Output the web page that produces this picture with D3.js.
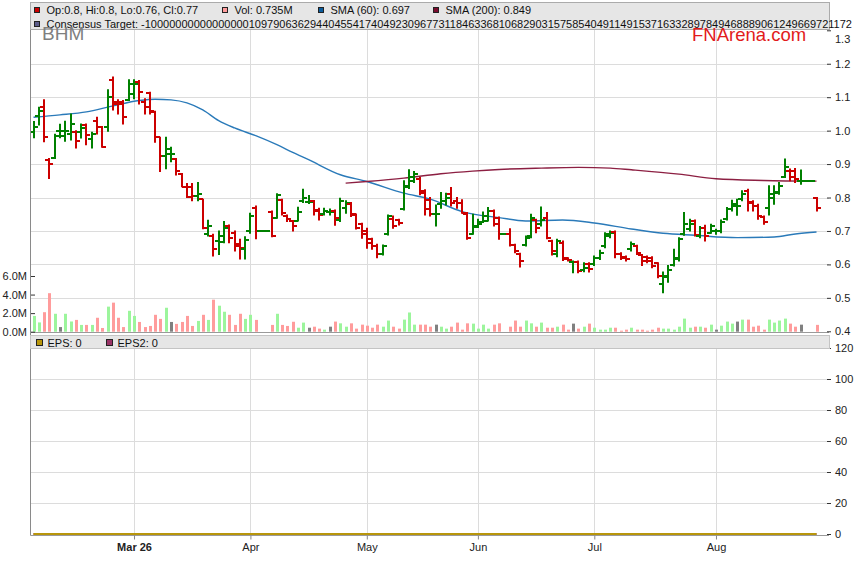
<!DOCTYPE html>
<html lang="en">
<head>
    <meta charset="UTF-8">
    <script src="https://cdnjs.cloudflare.com/ajax/libs/d3/7.8.5/d3.min.js"></script>
    <style>
        body { margin: 0; background: #fff; }
        text { font-family: "Liberation Sans", Arial, sans-serif; }
    </style>
</head>
<body>
<div id="chart"></div>

<script>
    // daily bars, one slot per weekday from 3 Feb 2026 (holidays are flat at the previous close)
    var opens = [0.995, 1.045, 1.070, 0.912, 0.917, 1.000, 0.985, 0.990, 0.995, 0.996,
        1.018, 0.975, 1.030, 1.010, 1.010, 1.150, 1.085, 1.085, 1.092, 1.110,
        1.145, 1.085, 1.112, 1.055, 0.980, 0.925, 0.930, 0.915, 0.870, 0.832,
        0.832, 0.805, 0.795, 0.690, 0.685, 0.670, 0.667, 0.715, 0.695, 0.660,
        0.645, 0.700, 0.770, 0.700, 0.700, 0.757, 0.738, 0.793, 0.745, 0.731,
        0.731, 0.790, 0.788, 0.790, 0.762, 0.752, 0.757, 0.760, 0.733, 0.770,
        0.780, 0.750, 0.720, 0.700, 0.675, 0.655, 0.632, 0.690, 0.735, 0.733,
        0.765, 0.830, 0.850, 0.855, 0.820, 0.792, 0.750, 0.780, 0.790, 0.810,
        0.790, 0.783, 0.752, 0.690, 0.712, 0.727, 0.730, 0.760, 0.740, 0.690,
        0.690, 0.658, 0.632, 0.658, 0.685, 0.733, 0.720, 0.740, 0.670, 0.630,
        0.665, 0.618, 0.608, 0.608, 0.583, 0.600, 0.600, 0.620, 0.655, 0.685,
        0.698, 0.632, 0.622, 0.645, 0.655, 0.628, 0.622, 0.620, 0.603, 0.540,
        0.565, 0.597, 0.615, 0.690, 0.705, 0.730, 0.685, 0.710, 0.695, 0.700,
        0.700, 0.735, 0.765, 0.775, 0.795, 0.820, 0.787, 0.775, 0.742, 0.770,
        0.800, 0.815, 0.862, 0.880, 0.880, 0.848, 0.848, 0.848, 0.800];
    var highs = [1.027, 1.070, 1.092, 0.917, 0.989, 1.019, 1.028, 1.050, 1.000, 1.020,
        1.020, 0.995, 1.040, 1.012, 1.122, 1.160, 1.092, 1.090, 1.152, 1.152,
        1.150, 1.095, 1.115, 1.058, 0.980, 0.980, 0.950, 0.917, 0.872, 0.842,
        0.842, 0.845, 0.795, 0.732, 0.690, 0.700, 0.728, 0.718, 0.700, 0.675,
        0.683, 0.753, 0.775, 0.700, 0.700, 0.760, 0.811, 0.795, 0.748, 0.731,
        0.771, 0.825, 0.806, 0.791, 0.768, 0.768, 0.766, 0.763, 0.798, 0.790,
        0.785, 0.751, 0.723, 0.708, 0.678, 0.660, 0.658, 0.748, 0.745, 0.735,
        0.850, 0.883, 0.878, 0.860, 0.823, 0.800, 0.778, 0.815, 0.813, 0.830,
        0.800, 0.793, 0.755, 0.750, 0.735, 0.757, 0.770, 0.763, 0.742, 0.690,
        0.707, 0.660, 0.633, 0.685, 0.750, 0.735, 0.772, 0.755, 0.672, 0.675,
        0.670, 0.620, 0.610, 0.610, 0.605, 0.605, 0.625, 0.642, 0.695, 0.700,
        0.700, 0.635, 0.625, 0.667, 0.657, 0.630, 0.625, 0.623, 0.605, 0.577,
        0.597, 0.645, 0.680, 0.755, 0.735, 0.733, 0.713, 0.717, 0.720, 0.705,
        0.733, 0.770, 0.792, 0.795, 0.820, 0.825, 0.790, 0.780, 0.745, 0.835,
        0.835, 0.845, 0.915, 0.885, 0.887, 0.882, 0.848, 0.848, 0.800];
    var lows = [0.979, 1.017, 0.967, 0.857, 0.917, 0.979, 0.968, 0.972, 0.948, 0.978,
        0.958, 0.948, 0.990, 0.950, 0.998, 1.062, 1.050, 1.020, 1.090, 1.095,
        1.080, 1.050, 1.050, 0.965, 0.878, 0.886, 0.907, 0.867, 0.832, 0.800,
        0.790, 0.790, 0.707, 0.685, 0.625, 0.630, 0.665, 0.665, 0.640, 0.616,
        0.616, 0.693, 0.677, 0.700, 0.700, 0.683, 0.738, 0.748, 0.728, 0.700,
        0.730, 0.785, 0.782, 0.748, 0.733, 0.748, 0.748, 0.717, 0.728, 0.753,
        0.743, 0.706, 0.678, 0.648, 0.645, 0.620, 0.628, 0.688, 0.708, 0.718,
        0.763, 0.827, 0.845, 0.808, 0.748, 0.745, 0.715, 0.768, 0.778, 0.775,
        0.768, 0.753, 0.675, 0.690, 0.710, 0.725, 0.730, 0.715, 0.675, 0.690,
        0.655, 0.635, 0.592, 0.655, 0.680, 0.695, 0.715, 0.677, 0.628, 0.623,
        0.612, 0.610, 0.575, 0.575, 0.578, 0.577, 0.597, 0.615, 0.650, 0.680,
        0.620, 0.615, 0.610, 0.640, 0.630, 0.597, 0.605, 0.590, 0.560, 0.515,
        0.547, 0.595, 0.610, 0.687, 0.700, 0.685, 0.680, 0.670, 0.693, 0.690,
        0.695, 0.733, 0.760, 0.747, 0.790, 0.760, 0.760, 0.735, 0.720, 0.748,
        0.780, 0.810, 0.860, 0.850, 0.845, 0.840, 0.848, 0.848, 0.760];
    var closes = [1.012, 1.058, 0.980, 0.899, 0.985, 1.000, 1.000, 1.020, 0.968, 1.008,
        0.988, 0.990, 1.010, 0.952, 1.100, 1.080, 1.080, 1.040, 1.140, 1.140,
        1.115, 1.072, 1.058, 0.982, 0.925, 0.945, 0.930, 0.880, 0.832, 0.802,
        0.805, 0.810, 0.710, 0.715, 0.647, 0.685, 0.710, 0.680, 0.655, 0.648,
        0.672, 0.745, 0.700, 0.700, 0.700, 0.686, 0.808, 0.755, 0.735, 0.715,
        0.758, 0.800, 0.788, 0.760, 0.748, 0.760, 0.757, 0.738, 0.790, 0.785,
        0.748, 0.710, 0.690, 0.665, 0.655, 0.630, 0.655, 0.745, 0.715, 0.725,
        0.835, 0.862, 0.870, 0.815, 0.765, 0.752, 0.750, 0.790, 0.800, 0.785,
        0.783, 0.755, 0.680, 0.715, 0.720, 0.745, 0.760, 0.720, 0.690, 0.690,
        0.657, 0.640, 0.610, 0.680, 0.740, 0.710, 0.733, 0.680, 0.640, 0.670,
        0.615, 0.612, 0.608, 0.580, 0.590, 0.585, 0.620, 0.635, 0.690, 0.695,
        0.632, 0.620, 0.617, 0.660, 0.633, 0.610, 0.610, 0.595, 0.565, 0.562,
        0.583, 0.620, 0.675, 0.720, 0.722, 0.687, 0.710, 0.685, 0.715, 0.700,
        0.727, 0.765, 0.782, 0.775, 0.812, 0.785, 0.775, 0.745, 0.728, 0.810,
        0.818, 0.835, 0.890, 0.860, 0.855, 0.848, 0.848, 0.848, 0.770];
    // volume, millions of shares
    var volumes = [1.70, 1.00, 2.10, 4.15, 1.93, 0.50, 1.93, 1.10, 1.27, 0.73,
        0.73, 0.73, 1.50, 0.40, 2.70, 3.13, 1.50, 0.50, 2.25, 1.70,
        1.05, 0.50, 0.62, 1.82, 1.38, 2.58, 1.05, 0.84, 1.05, 1.70,
        0.62, 1.16, 1.82, 1.27, 3.45, 2.80, 2.15, 1.82, 0.73, 1.93,
        1.38, 1.82, 1.27, 0, 0, 0.73, 1.93, 0.73, 0.62, 1.07,
        0.43, 0.98, 0.43, 0.54, 0.33, 0.22, 0.54, 1.09, 0.90, 0.54,
        0.90, 0.33, 0.76, 0.65, 0.43, 0.76, 0.54, 1.20, 0.54, 0.33,
        1.30, 2.07, 0.76, 0.76, 0.76, 0.54, 0.76, 0.54, 0.33, 0.54,
        0.98, 0.22, 0.90, 0.87, 0.33, 0.76, 0.33, 0.76, 0.90, 0,
        0.54, 1.20, 0.54, 1.20, 0.90, 0.54, 0.98, 0.43, 0.43, 0.54,
        0.76, 0.22, 0.87, 0.33, 0.54, 0.87, 0.43, 0.22, 0.22, 0.43,
        0.43, 0.11, 0.22, 0.43, 0.22, 0.22, 0.11, 0.22, 0.43, 0.33,
        0.33, 0.22, 0.54, 1.41, 0.43, 0.54, 0.54, 0.43, 0.76, 0.22,
        0.65, 1.09, 0.87, 1.09, 1.30, 1.30, 0.54, 0.65, 0.22, 1.30,
        0.98, 1.20, 1.41, 0.87, 0.54, 0.76, 0, 0, 0.735];

    // moving averages, keyed by bar number
    var sma60Bars = [0, 5, 10, 15, 20, 23, 26, 29, 32, 35, 38, 42, 46, 49, 52, 58, 63,
        70, 75, 81, 88, 93, 100, 106, 113, 119, 125, 133, 140, 144, 148];
    var sma60Values = [1.040, 1.047, 1.056, 1.074, 1.090, 1.094, 1.092, 1.083, 1.062, 1.030, 1.008,
        0.985, 0.958, 0.935, 0.913, 0.868, 0.848, 0.813, 0.795, 0.758, 0.740, 0.730,
        0.733, 0.724, 0.706, 0.693, 0.687, 0.680, 0.682, 0.691, 0.697];
    var sma200Bars = [59, 63, 70, 77, 83, 88, 96, 103, 109, 113, 122, 129, 138, 148];
    var sma200Values = [0.843, 0.848, 0.858, 0.871, 0.879, 0.884, 0.888, 0.890, 0.888, 0.883,
        0.870, 0.856, 0.851, 0.849];

    var epsBars = [0, 148];
    var epsValues = [0, 0];
    var eps2Values = [0, 0];

    var monthTickDates = ["2026-03-02", "2026-04-01", "2026-05-01", "2026-06-01", "2026-07-01", "2026-08-03"];
    var monthTickLabels = ["Mar 26", "Apr", "May", "Jun", "Jul", "Aug"];
    var priceTicks = [0.4, 0.5, 0.6, 0.7, 0.8, 0.9, 1.0, 1.1, 1.2, 1.3];
    var volumeTicks = [0, 2, 4, 6];
    var epsTicks = [0, 20, 40, 60, 80, 100, 120];

    var consensusText = "Consensus Target: -10000000000000000109790636294404554174049230967731184633681068290315758540491149153716332897849468889061249669721172";

    // weekday slots
    var dates = [];
    var day = new Date(2026, 1, 3);
    while (dates.length < closes.length) {
        if (day.getDay() !== 0 && day.getDay() !== 6) dates.push(new Date(day));
        day.setDate(day.getDate() + 1);
    }
    var fmtDay = d3.timeFormat("%Y-%m-%d");
    var dayKeys = dates.map(fmtDay);
    var tickBars = monthTickDates.map(function (d) { return dayKeys.indexOf(d); });

    var last = closes.length - 1;
    var bars = d3.range(closes.length).map(function (i) {
        return {i: i, o: opens[i], h: highs[i], l: lows[i], c: closes[i], v: volumes[i]};
    });

    var width = 859, height = 566;
    var left = 30.5, right = 829;

    var x = d3.scaleLinear().domain([0, last]).range([33.5, 816.5]);
    var yPrice = d3.scaleLinear().domain([0.4, 1.3]).range([331.3, 30.3]);
    var yVol = d3.scaleLinear().domain([0, 6]).range([331.7, 276]);
    var yEps = d3.scaleLinear().domain([0, 120]).range([534, 348]);

    var svg = d3.select("#chart").append("svg")
        .attr("width", width)
        .attr("height", height)
        .style("display", "block");

    var gridColor = "#dcdcdc";
    var up = "#008000", down = "#cc0000";

    // grid, top panel
    svg.append("g").selectAll("line")
        .data(priceTicks.filter(function (t) { return t > 0.4 && t < 1.3; }))
        .enter().append("line")
        .attr("x1", left).attr("x2", right)
        .attr("y1", function (d) { return Math.round(yPrice(d)) + 0.5; })
        .attr("y2", function (d) { return Math.round(yPrice(d)) + 0.5; })
        .attr("stroke", gridColor);

    svg.append("g").selectAll("line")
        .data(tickBars)
        .enter().append("line")
        .attr("x1", function (d) { return Math.round(x(d)) + 0.5; })
        .attr("x2", function (d) { return Math.round(x(d)) + 0.5; })
        .attr("y1", 30).attr("y2", 332)
        .attr("stroke", gridColor);

    // grid, EPS panel
    svg.append("g").selectAll("line")
        .data(epsTicks.filter(function (t) { return t > 0 && t < 120; }))
        .enter().append("line")
        .attr("x1", left).attr("x2", right)
        .attr("y1", function (d) { return Math.round(yEps(d)) + 0.5; })
        .attr("y2", function (d) { return Math.round(yEps(d)) + 0.5; })
        .attr("stroke", gridColor);

    svg.append("g").selectAll("line")
        .data(tickBars)
        .enter().append("line")
        .attr("x1", function (d) { return Math.round(x(d)) + 0.5; })
        .attr("x2", function (d) { return Math.round(x(d)) + 0.5; })
        .attr("y1", 349).attr("y2", 535)
        .attr("stroke", gridColor);

    // volume
    svg.append("g").selectAll("rect")
        .data(bars.filter(function (b) { return b.v > 0; }))
        .enter().append("rect")
        .attr("x", function (b) { return Math.round(x(b.i)) - 1; })
        .attr("width", 3)
        .attr("y", function (b) { return yVol(b.v); })
        .attr("height", function (b) { return yVol(0) - yVol(b.v); })
        .attr("fill", function (b) {
            return b.c > b.o ? "#9cf59c" : (b.c < b.o ? "#ff9c9c" : "#808080");
        });

    // moving averages
    var smaLine = d3.line()
        .x(function (d) { return x(d[0]); })
        .y(function (d) { return yPrice(d[1]); })
        .curve(d3.curveMonotoneX);

    svg.append("path")
        .attr("d", smaLine(d3.zip(sma60Bars, sma60Values)))
        .attr("fill", "none")
        .attr("stroke", "#2a7ab9")
        .attr("stroke-width", 1.4);

    svg.append("path")
        .attr("d", smaLine(d3.zip(sma200Bars, sma200Values)))
        .attr("fill", "none")
        .attr("stroke", "#8c1f42")
        .attr("stroke-width", 1.4);

    // OHLC bars
    var ohlc = svg.append("g").selectAll("g")
        .data(bars)
        .enter().append("g")
        .attr("stroke", function (b) { return b.c >= b.o ? up : down; })
        .attr("stroke-width", 2);

    ohlc.append("line")
        .attr("x1", function (b) { return Math.round(x(b.i)); })
        .attr("x2", function (b) { return Math.round(x(b.i)); })
        .attr("y1", function (b) { return yPrice(b.h) - 0.5; })
        .attr("y2", function (b) { return yPrice(b.l) + 0.5; });

    ohlc.append("line")
        .attr("x1", function (b) { return Math.round(x(b.i)) - 4; })
        .attr("x2", function (b) { return Math.round(x(b.i)); })
        .attr("y1", function (b) { return Math.round(yPrice(b.o)); })
        .attr("y2", function (b) { return Math.round(yPrice(b.o)); });

    ohlc.append("line")
        .attr("x1", function (b) { return Math.round(x(b.i)); })
        .attr("x2", function (b) { return Math.round(x(b.i)) + 4; })
        .attr("y1", function (b) { return Math.round(yPrice(b.c)); })
        .attr("y2", function (b) { return Math.round(yPrice(b.c)); });

    // EPS lines
    var epsLine = d3.line()
        .x(function (d) { return x(d[0]); })
        .y(function (d) { return yEps(d[1]); });

    svg.append("path")
        .attr("d", epsLine(d3.zip(epsBars, eps2Values)))
        .attr("fill", "none")
        .attr("stroke", "#993366")
        .attr("stroke-width", 2);

    svg.append("path")
        .attr("d", epsLine(d3.zip(epsBars, epsValues)))
        .attr("fill", "none")
        .attr("stroke", "#b8960b")
        .attr("stroke-width", 2);

    // frame lines
    svg.append("line").attr("x1", left).attr("x2", left).attr("y1", 2).attr("y2", 535.5)
        .attr("stroke", "#8a8a8a");
    svg.append("line").attr("x1", left).attr("x2", right).attr("y1", 332.5).attr("y2", 332.5)
        .attr("stroke", "#9a9a9a");
    svg.append("line").attr("x1", left).attr("x2", right).attr("y1", 535.5).attr("y2", 535.5)
        .attr("stroke", "#9a9a9a");

    // axes
    function styleAxis(g) {
        g.select(".domain").remove();
        g.selectAll("line").attr("stroke", "#333");
        g.selectAll("text").attr("fill", "#222").style("font-size", "11px")
            .style("font-family", "'Liberation Sans', Arial, sans-serif");
    }

    var priceAxis = svg.append("g")
        .attr("transform", "translate(827,0)")
        .call(d3.axisRight(yPrice).tickValues(priceTicks).tickFormat(d3.format(".1f"))
            .tickSize(4).tickPadding(4))
        .call(styleAxis);
    priceAxis.selectAll(".tick").filter(function (d) { return d === 1.3; })
        .select("text").attr("y", 9);

    svg.append("g")
        .attr("transform", "translate(827,0)")
        .call(d3.axisRight(yEps).tickValues(epsTicks).tickSize(4).tickPadding(4))
        .call(styleAxis);

    svg.append("g")
        .attr("transform", "translate(31,0)")
        .call(d3.axisLeft(yVol).tickValues(volumeTicks)
            .tickFormat(function (d) { return d3.format(".1f")(d) + "M"; })
            .tickSize(-4).tickPadding(4))
        .call(styleAxis);

    var xAxis = svg.append("g")
        .attr("transform", "translate(0,535.5)")
        .call(d3.axisBottom(x).tickValues(tickBars)
            .tickFormat(function (d, i) { return monthTickLabels[i]; })
            .tickSize(4).tickPadding(4))
        .call(styleAxis);
    xAxis.selectAll(".tick line").attr("stroke", "#888");
    xAxis.selectAll(".tick").filter(function (d, i) { return i === 0; })
        .select("text").style("font-weight", "bold");

    // top legend
    svg.append("rect")
        .attr("x", left).attr("y", 2.5).attr("width", 799).attr("height", 27)
        .attr("fill", "#e6e6e6").attr("stroke", "#ababab");

    var fmt = function (v) { return String(+v.toFixed(3)); };
    var topItems = [
        {x: 34.5, y: 7.5, color: "#cc0000",
            label: "Op:" + fmt(opens[last]) + ", Hi:" + fmt(highs[last]) + ", Lo:" + fmt(lows[last]) + ", Cl:" + fmt(closes[last])},
        {x: 222.5, y: 7.5, color: "#ff9c9c", label: "Vol: " + fmt(volumes[last]) + "M"},
        {x: 318.5, y: 7.5, color: "#0b5c9c", label: "SMA (60): " + fmt(sma60Values[sma60Values.length - 1])},
        {x: 433.5, y: 7.5, color: "#7a0c2e", label: "SMA (200): " + fmt(sma200Values[sma200Values.length - 1])},
        {x: 34.5, y: 21.5, color: "#5c5c8a", label: consensusText}
    ];
    var topLegend = svg.append("g").selectAll("g").data(topItems).enter().append("g");
    topLegend.append("rect")
        .attr("x", function (d) { return d.x; }).attr("y", function (d) { return d.y; })
        .attr("width", 5).attr("height", 5)
        .attr("fill", function (d) { return d.color; })
        .attr("stroke", "#222");
    topLegend.append("text")
        .attr("x", function (d) { return d.x + 12; })
        .attr("y", function (d) { return d.y + 6; })
        .attr("fill", "#111")
        .style("font-size", "11px")
        .text(function (d) { return d.label; });

    svg.append("text")
        .attr("x", 42).attr("y", 39.5)
        .attr("fill", "#7f7f7f")
        .style("font-size", "19px")
        .text("BHM");

    svg.append("text")
        .attr("x", 692).attr("y", 41)
        .attr("fill", "#e21b1b")
        .style("font-size", "18.5px")
        .text("FNArena.com");

    // EPS legend
    svg.append("rect")
        .attr("x", left).attr("y", 335.5).attr("width", 799).attr("height", 13)
        .attr("fill", "#e6e6e6").attr("stroke", "#c4c4c4");

    var epsItems = [
        {x: 36.5, color: "#b8960b", label: "EPS: " + epsValues[epsValues.length - 1]},
        {x: 106.5, color: "#993366", label: "EPS2: " + eps2Values[eps2Values.length - 1]}
    ];
    var epsLegend = svg.append("g").selectAll("g").data(epsItems).enter().append("g");
    epsLegend.append("rect")
        .attr("x", function (d) { return d.x; }).attr("y", 339.5)
        .attr("width", 6).attr("height", 6)
        .attr("fill", function (d) { return d.color; })
        .attr("stroke", "#222");
    epsLegend.append("text")
        .attr("x", function (d) { return d.x + 11; })
        .attr("y", 346.5)
        .attr("fill", "#111")
        .style("font-size", "11px")
        .text(function (d) { return d.label; });
</script>
</body>
</html>
